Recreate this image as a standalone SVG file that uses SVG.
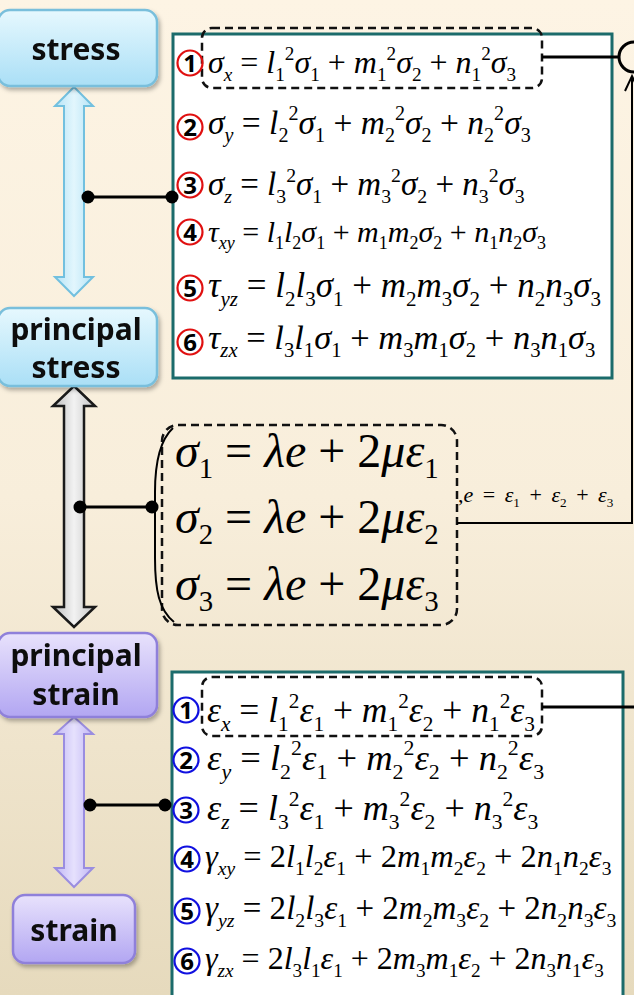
<svg xmlns="http://www.w3.org/2000/svg" width="634" height="995" viewBox="0 0 634 995">
<defs>
<linearGradient id="bg" x1="0" y1="0" x2="0" y2="1"><stop offset="0" stop-color="#fdf4e4"/><stop offset="0.5" stop-color="#f8eedb"/><stop offset="1" stop-color="#e6dabd"/></linearGradient>
<linearGradient id="gBlue" x1="0" y1="0" x2="0" y2="1"><stop offset="0" stop-color="#e6f8fe"/><stop offset="1" stop-color="#aadff6"/></linearGradient>
<linearGradient id="gPurple" x1="0" y1="0" x2="0" y2="1"><stop offset="0" stop-color="#e8e2fc"/><stop offset="1" stop-color="#b2a6f2"/></linearGradient>
<linearGradient id="aBlue" x1="0" y1="0" x2="1" y2="0"><stop offset="0" stop-color="#b5e3f6"/><stop offset="0.5" stop-color="#e2f6fd"/><stop offset="1" stop-color="#b5e3f6"/></linearGradient>
<linearGradient id="aGray" x1="0" y1="0" x2="1" y2="0"><stop offset="0" stop-color="#bdbdbd"/><stop offset="0.5" stop-color="#f2f2f2"/><stop offset="1" stop-color="#c4c4c4"/></linearGradient>
<linearGradient id="aPurple" x1="0" y1="0" x2="1" y2="0"><stop offset="0" stop-color="#c0b6f4"/><stop offset="0.5" stop-color="#e6e1fd"/><stop offset="1" stop-color="#c0b6f4"/></linearGradient>
<filter id="sh" x="-10%" y="-10%" width="130%" height="140%"><feDropShadow dx="2" dy="3" stdDeviation="2" flood-color="#000" flood-opacity="0.3"/></filter>
</defs>
<style>
.lbl{font-family:"Noto Sans","Open Sans","DejaVu Sans",sans-serif;font-weight:700;font-size:30px;fill:#111;text-anchor:middle}
.bb{stroke:#79bfdc;stroke-width:2.5;fill:url(#gBlue)}
.pb{stroke:#8f80da;stroke-width:2.5;fill:url(#gPurple)}
.eqbox{fill:#fff;stroke:#1b6b6b;stroke-width:3}
.dash{fill:none;stroke:#111;stroke-width:2.5;stroke-dasharray:8 5}
.eq{font-family:'Liberation Serif','Times New Roman',serif;fill:#000}
.i{font-style:italic}
.s{font-size:60%}
.cr{fill:none;stroke:#e01010;stroke-width:2.2}
.cb{fill:none;stroke:#1010e0;stroke-width:2.2}
.num{font-family:"Noto Sans","Open Sans",sans-serif;font-weight:700;font-size:24px;fill:#000;text-anchor:middle}
.ln{stroke:#000;stroke-width:3;fill:none}
.thin{stroke:#000;stroke-width:2;fill:none}
.dot{fill:#000}
</style>
<rect x="0" y="0" width="634" height="995" fill="url(#bg)"/>

<g id="arrows">
<polygon points="74,87 93,106 84,106 84,277 93,277 74,296 55,277 64,277 64,106 55,106" fill="url(#aBlue)" stroke="#72c0df" stroke-width="2"/>
<polygon points="74,386 95,406 84,406 84,607 95,607 74,627 53,607 64,607 64,406 53,406" fill="url(#aGray)" stroke="#1a1a1a" stroke-width="2.5"/>
<polygon points="74,717 93,734 84,734 84,868 93,868 74,887 55,868 64,868 64,734 55,734" fill="url(#aPurple)" stroke="#9a8de0" stroke-width="2"/>
</g>

<g id="node-stress" filter="url(#sh)"><rect class="bb" x="-2" y="10" width="159" height="76" rx="12"/><text class="lbl" x="76" y="60">stress</text></g>
<g id="node-principal-stress" filter="url(#sh)"><rect class="bb" x="-2" y="308" width="159" height="78" rx="12"/><text class="lbl" x="76" y="340">principal</text><text class="lbl" x="76" y="378">stress</text></g>
<g id="node-principal-strain" filter="url(#sh)"><rect class="pb" x="-2" y="633" width="159" height="84" rx="12"/><text class="lbl" x="76" y="666">principal</text><text class="lbl" x="76" y="705">strain</text></g>
<g id="node-strain" filter="url(#sh)"><rect class="pb" x="13" y="895" width="122" height="68" rx="12"/><text class="lbl" x="74" y="941">strain</text></g>

<g id="eq-stress">
<rect class="eqbox" x="173" y="34" width="439" height="344"/>
<rect class="dash" x="202" y="28" width="340" height="60" rx="10"/>
<circle class="cr" cx="190" cy="63" r="12.5"/><text class="num" x="190" y="71.5">1</text>
<circle class="cr" cx="190" cy="127" r="12.5"/><text class="num" x="190" y="135.5">2</text>
<circle class="cr" cx="190" cy="185" r="12.5"/><text class="num" x="190" y="193.5">3</text>
<circle class="cr" cx="190" cy="232" r="12.5"/><text class="num" x="190" y="240.5">4</text>
<circle class="cr" cx="190" cy="288" r="12.5"/><text class="num" x="190" y="296.5">5</text>
<circle class="cr" cx="190" cy="342" r="12.5"/><text class="num" x="190" y="350.5">6</text>
<text class="eq" x="208" y="73" font-size="32"><tspan class="i">σ</tspan><tspan class="i s" dy="8">x</tspan><tspan dy="-8"> = </tspan><tspan class="i">l</tspan><tspan class="s" dy="8">1</tspan><tspan class="s" dy="-21">2</tspan><tspan class="i" dy="13">σ</tspan><tspan class="s" dy="8">1</tspan><tspan dy="-8"> + </tspan><tspan class="i">m</tspan><tspan class="s" dy="8">1</tspan><tspan class="s" dy="-21">2</tspan><tspan class="i" dy="13">σ</tspan><tspan class="s" dy="8">2</tspan><tspan dy="-8"> + </tspan><tspan class="i">n</tspan><tspan class="s" dy="8">1</tspan><tspan class="s" dy="-21">2</tspan><tspan class="i" dy="13">σ</tspan><tspan class="s" dy="8">3</tspan></text>
<text class="eq" x="208" y="134" font-size="33.5"><tspan class="i">σ</tspan><tspan class="i s" dy="8">y</tspan><tspan dy="-8"> = </tspan><tspan class="i">l</tspan><tspan class="s" dy="8">2</tspan><tspan class="s" dy="-22">2</tspan><tspan class="i" dy="14">σ</tspan><tspan class="s" dy="8">1</tspan><tspan dy="-8"> + </tspan><tspan class="i">m</tspan><tspan class="s" dy="8">2</tspan><tspan class="s" dy="-22">2</tspan><tspan class="i" dy="14">σ</tspan><tspan class="s" dy="8">2</tspan><tspan dy="-8"> + </tspan><tspan class="i">n</tspan><tspan class="s" dy="8">2</tspan><tspan class="s" dy="-22">2</tspan><tspan class="i" dy="14">σ</tspan><tspan class="s" dy="8">3</tspan></text>
<text class="eq" x="208" y="195" font-size="33"><tspan class="i">σ</tspan><tspan class="i s" dy="8">z</tspan><tspan dy="-8"> = </tspan><tspan class="i">l</tspan><tspan class="s" dy="8">3</tspan><tspan class="s" dy="-21">2</tspan><tspan class="i" dy="13">σ</tspan><tspan class="s" dy="8">1</tspan><tspan dy="-8"> + </tspan><tspan class="i">m</tspan><tspan class="s" dy="8">3</tspan><tspan class="s" dy="-21">2</tspan><tspan class="i" dy="13">σ</tspan><tspan class="s" dy="8">2</tspan><tspan dy="-8"> + </tspan><tspan class="i">n</tspan><tspan class="s" dy="8">3</tspan><tspan class="s" dy="-21">2</tspan><tspan class="i" dy="13">σ</tspan><tspan class="s" dy="8">3</tspan></text>
<text class="eq" x="208" y="242" font-size="30"><tspan class="i">τ</tspan><tspan class="i s" dy="7">xy</tspan><tspan dy="-7"> = </tspan><tspan class="i">l</tspan><tspan class="s" dy="7">1</tspan><tspan class="i" dy="-7">l</tspan><tspan class="s" dy="7">2</tspan><tspan class="i" dy="-7">σ</tspan><tspan class="s" dy="7">1</tspan><tspan dy="-7"> + </tspan><tspan class="i">m</tspan><tspan class="s" dy="7">1</tspan><tspan class="i" dy="-7">m</tspan><tspan class="s" dy="7">2</tspan><tspan class="i" dy="-7">σ</tspan><tspan class="s" dy="7">2</tspan><tspan dy="-7"> + </tspan><tspan class="i">n</tspan><tspan class="s" dy="7">1</tspan><tspan class="i" dy="-7">n</tspan><tspan class="s" dy="7">2</tspan><tspan class="i" dy="-7">σ</tspan><tspan class="s" dy="7">3</tspan></text>
<text class="eq" x="208" y="297" font-size="35"><tspan class="i">τ</tspan><tspan class="i s" dy="9">yz</tspan><tspan dy="-9"> = </tspan><tspan class="i">l</tspan><tspan class="s" dy="9">2</tspan><tspan class="i" dy="-9">l</tspan><tspan class="s" dy="9">3</tspan><tspan class="i" dy="-9">σ</tspan><tspan class="s" dy="9">1</tspan><tspan dy="-9"> + </tspan><tspan class="i">m</tspan><tspan class="s" dy="9">2</tspan><tspan class="i" dy="-9">m</tspan><tspan class="s" dy="9">3</tspan><tspan class="i" dy="-9">σ</tspan><tspan class="s" dy="9">2</tspan><tspan dy="-9"> + </tspan><tspan class="i">n</tspan><tspan class="s" dy="9">2</tspan><tspan class="i" dy="-9">n</tspan><tspan class="s" dy="9">3</tspan><tspan class="i" dy="-9">σ</tspan><tspan class="s" dy="9">3</tspan></text>
<text class="eq" x="208" y="349" font-size="34.5"><tspan class="i">τ</tspan><tspan class="i s" dy="8">zx</tspan><tspan dy="-8"> = </tspan><tspan class="i">l</tspan><tspan class="s" dy="8">3</tspan><tspan class="i" dy="-8">l</tspan><tspan class="s" dy="8">1</tspan><tspan class="i" dy="-8">σ</tspan><tspan class="s" dy="8">1</tspan><tspan dy="-8"> + </tspan><tspan class="i">m</tspan><tspan class="s" dy="8">3</tspan><tspan class="i" dy="-8">m</tspan><tspan class="s" dy="8">1</tspan><tspan class="i" dy="-8">σ</tspan><tspan class="s" dy="8">2</tspan><tspan dy="-8"> + </tspan><tspan class="i">n</tspan><tspan class="s" dy="8">3</tspan><tspan class="i" dy="-8">n</tspan><tspan class="s" dy="8">1</tspan><tspan class="i" dy="-8">σ</tspan><tspan class="s" dy="8">3</tspan></text>
</g>

<g id="eq-principal">
<rect class="dash" x="162" y="425" width="295" height="200" rx="16"/>
<path class="thin" d="M173,428 C160,440 155,462 155,492 L155,558 C155,590 159,610 174,622"/>
<text class="eq" x="175" y="467" font-size="48"><tspan class="i">σ</tspan><tspan class="s" dy="11">1</tspan><tspan dy="-11"> = </tspan><tspan class="i">λe</tspan><tspan> + 2</tspan><tspan class="i">με</tspan><tspan class="s" dy="11">1</tspan></text>
<text class="eq" x="175" y="533" font-size="48"><tspan class="i">σ</tspan><tspan class="s" dy="11">2</tspan><tspan dy="-11"> = </tspan><tspan class="i">λe</tspan><tspan> + 2</tspan><tspan class="i">με</tspan><tspan class="s" dy="11">2</tspan></text>
<text class="eq" x="175" y="600" font-size="48"><tspan class="i">σ</tspan><tspan class="s" dy="11">3</tspan><tspan dy="-11"> = </tspan><tspan class="i">λe</tspan><tspan> + 2</tspan><tspan class="i">με</tspan><tspan class="s" dy="11">3</tspan></text>
<text class="eq" x="458" y="502" font-size="22" word-spacing="4"><tspan>,</tspan><tspan class="i">e</tspan><tspan> = </tspan><tspan class="i">ε</tspan><tspan class="s" dy="5">1</tspan><tspan dy="-5"> + </tspan><tspan class="i">ε</tspan><tspan class="s" dy="5">2</tspan><tspan dy="-5"> + </tspan><tspan class="i">ε</tspan><tspan class="s" dy="5">3</tspan></text>
</g>

<g id="eq-strain">
<rect class="eqbox" x="172" y="672" width="451" height="340"/>
<rect class="dash" x="202" y="677" width="340" height="59" rx="10"/>
<circle class="cb" cx="186" cy="710" r="12.5"/><text class="num" x="186" y="718.5">1</text>
<circle class="cb" cx="186" cy="760" r="12.5"/><text class="num" x="186" y="768.5">2</text>
<circle class="cb" cx="186" cy="810" r="12.5"/><text class="num" x="186" y="818.5">3</text>
<circle class="cb" cx="187" cy="859" r="12.5"/><text class="num" x="187" y="867.5">4</text>
<circle class="cb" cx="187" cy="911" r="12.5"/><text class="num" x="187" y="919.5">5</text>
<circle class="cb" cx="187" cy="961" r="12.5"/><text class="num" x="187" y="969.5">6</text>
<text class="eq" x="207" y="722" font-size="35.5"><tspan class="i">ε</tspan><tspan class="i s" dy="9">x</tspan><tspan dy="-9"> = </tspan><tspan class="i">l</tspan><tspan class="s" dy="9">1</tspan><tspan class="s" dy="-23">2</tspan><tspan class="i" dy="14">ε</tspan><tspan class="s" dy="9">1</tspan><tspan dy="-9"> + </tspan><tspan class="i">m</tspan><tspan class="s" dy="9">1</tspan><tspan class="s" dy="-23">2</tspan><tspan class="i" dy="14">ε</tspan><tspan class="s" dy="9">2</tspan><tspan dy="-9"> + </tspan><tspan class="i">n</tspan><tspan class="s" dy="9">1</tspan><tspan class="s" dy="-23">2</tspan><tspan class="i" dy="14">ε</tspan><tspan class="s" dy="9">3</tspan></text>
<text class="eq" x="207" y="770" font-size="36.5"><tspan class="i">ε</tspan><tspan class="i s" dy="9">y</tspan><tspan dy="-9"> = </tspan><tspan class="i">l</tspan><tspan class="s" dy="9">2</tspan><tspan class="s" dy="-24">2</tspan><tspan class="i" dy="15">ε</tspan><tspan class="s" dy="9">1</tspan><tspan dy="-9"> + </tspan><tspan class="i">m</tspan><tspan class="s" dy="9">2</tspan><tspan class="s" dy="-24">2</tspan><tspan class="i" dy="15">ε</tspan><tspan class="s" dy="9">2</tspan><tspan dy="-9"> + </tspan><tspan class="i">n</tspan><tspan class="s" dy="9">2</tspan><tspan class="s" dy="-24">2</tspan><tspan class="i" dy="15">ε</tspan><tspan class="s" dy="9">3</tspan></text>
<text class="eq" x="207" y="820" font-size="36"><tspan class="i">ε</tspan><tspan class="i s" dy="9">z</tspan><tspan dy="-9"> = </tspan><tspan class="i">l</tspan><tspan class="s" dy="9">3</tspan><tspan class="s" dy="-23">2</tspan><tspan class="i" dy="14">ε</tspan><tspan class="s" dy="9">1</tspan><tspan dy="-9"> + </tspan><tspan class="i">m</tspan><tspan class="s" dy="9">3</tspan><tspan class="s" dy="-23">2</tspan><tspan class="i" dy="14">ε</tspan><tspan class="s" dy="9">2</tspan><tspan dy="-9"> + </tspan><tspan class="i">n</tspan><tspan class="s" dy="9">3</tspan><tspan class="s" dy="-23">2</tspan><tspan class="i" dy="14">ε</tspan><tspan class="s" dy="9">3</tspan></text>
<text class="eq" x="205" y="867" font-size="32.5"><tspan class="i">γ</tspan><tspan class="i s" dy="8">xy</tspan><tspan dy="-8"> = 2</tspan><tspan class="i">l</tspan><tspan class="s" dy="8">1</tspan><tspan class="i" dy="-8">l</tspan><tspan class="s" dy="8">2</tspan><tspan class="i" dy="-8">ε</tspan><tspan class="s" dy="8">1</tspan><tspan dy="-8"> + 2</tspan><tspan class="i">m</tspan><tspan class="s" dy="8">1</tspan><tspan class="i" dy="-8">m</tspan><tspan class="s" dy="8">2</tspan><tspan class="i" dy="-8">ε</tspan><tspan class="s" dy="8">2</tspan><tspan dy="-8"> + 2</tspan><tspan class="i">n</tspan><tspan class="s" dy="8">1</tspan><tspan class="i" dy="-8">n</tspan><tspan class="s" dy="8">2</tspan><tspan class="i" dy="-8">ε</tspan><tspan class="s" dy="8">3</tspan></text>
<text class="eq" x="205" y="919" font-size="33"><tspan class="i">γ</tspan><tspan class="i s" dy="8">yz</tspan><tspan dy="-8"> = 2</tspan><tspan class="i">l</tspan><tspan class="s" dy="8">2</tspan><tspan class="i" dy="-8">l</tspan><tspan class="s" dy="8">3</tspan><tspan class="i" dy="-8">ε</tspan><tspan class="s" dy="8">1</tspan><tspan dy="-8"> + 2</tspan><tspan class="i">m</tspan><tspan class="s" dy="8">2</tspan><tspan class="i" dy="-8">m</tspan><tspan class="s" dy="8">3</tspan><tspan class="i" dy="-8">ε</tspan><tspan class="s" dy="8">2</tspan><tspan dy="-8"> + 2</tspan><tspan class="i">n</tspan><tspan class="s" dy="8">2</tspan><tspan class="i" dy="-8">n</tspan><tspan class="s" dy="8">3</tspan><tspan class="i" dy="-8">ε</tspan><tspan class="s" dy="8">3</tspan></text>
<text class="eq" x="205" y="969" font-size="32"><tspan class="i">γ</tspan><tspan class="i s" dy="8">zx</tspan><tspan dy="-8"> = 2</tspan><tspan class="i">l</tspan><tspan class="s" dy="8">3</tspan><tspan class="i" dy="-8">l</tspan><tspan class="s" dy="8">1</tspan><tspan class="i" dy="-8">ε</tspan><tspan class="s" dy="8">1</tspan><tspan dy="-8"> + 2</tspan><tspan class="i">m</tspan><tspan class="s" dy="8">3</tspan><tspan class="i" dy="-8">m</tspan><tspan class="s" dy="8">1</tspan><tspan class="i" dy="-8">ε</tspan><tspan class="s" dy="8">2</tspan><tspan dy="-8"> + 2</tspan><tspan class="i">n</tspan><tspan class="s" dy="8">3</tspan><tspan class="i" dy="-8">n</tspan><tspan class="s" dy="8">1</tspan><tspan class="i" dy="-8">ε</tspan><tspan class="s" dy="8">3</tspan></text>
</g>

<g id="connectors">
<line class="ln" x1="88" y1="197" x2="172" y2="197"/><circle class="dot" cx="88" cy="197" r="6.5"/><circle class="dot" cx="172" cy="197" r="6.5"/>
<line class="ln" x1="80" y1="507" x2="152" y2="507"/><circle class="dot" cx="80" cy="507" r="6.5"/><circle class="dot" cx="152" cy="507" r="6.5"/>
<line class="ln" x1="90" y1="805" x2="165" y2="805"/><circle class="dot" cx="90" cy="805" r="6.5"/><circle class="dot" cx="165" cy="805" r="6.5"/>
<line class="ln" x1="542" y1="57" x2="619" y2="57" stroke-width="2.5"/>
<circle cx="634" cy="57" r="15" fill="none" stroke="#000" stroke-width="3"/>
<polyline class="thin" points="457,523 632,523 632,76"/>
<polyline class="thin" points="625,91 632,76 639,91" stroke-width="2.5"/>
<line class="ln" x1="542" y1="707" x2="634" y2="707" stroke-width="2.5"/>
</g>
</svg>
